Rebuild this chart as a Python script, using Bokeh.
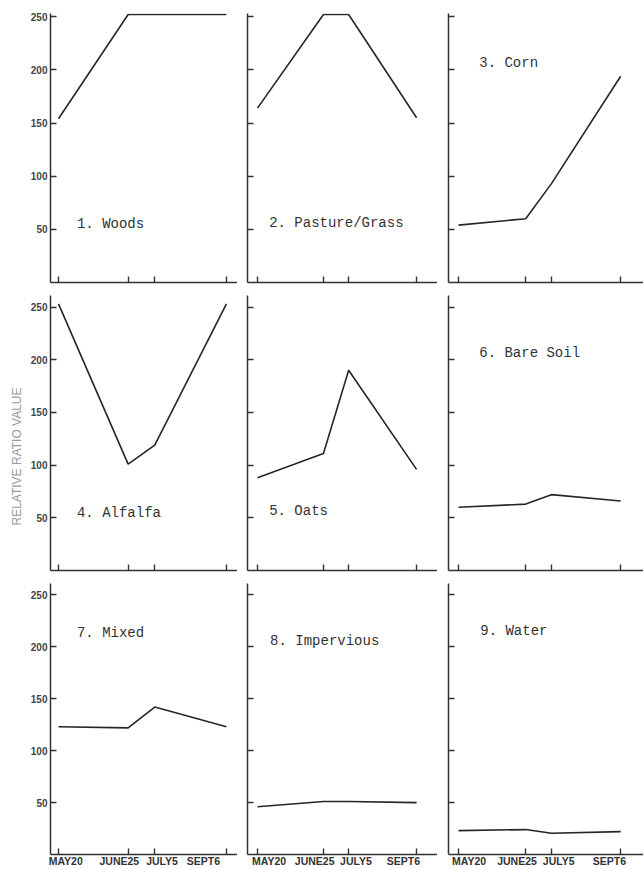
from bokeh.plotting import figure
from bokeh.layouts import gridplot
from bokeh.models import Range1d, Label, FixedTicker, Title
from bokeh.embed import file_html
from bokeh.resources import INLINE

# ---- data ----
date_labels = ["MAY20", "JUNE25", "JULY5", "SEPT6"]
date_pos = [0, 68, 94, 164]
y_ticks = [50, 100, 150, 200, 250]

woods = [154, 252, 252, 252]
pasture = [164, 252, 252, 155]
corn = [54, 60, 93, 194]
alfalfa = [253, 101, 119, 253]
oats = [88, 111, 190, 96]
bare_soil = [60, 63, 72, 66]
mixed = [123, 122, 142, 123]
impervious = [46, 51, 51, 50]
water = [23, 24, 20.5, 22]

panel_titles = ["1. Woods", "2. Pasture/Grass", "3. Corn",
                "4. Alfalfa", "5. Oats", "6. Bare Soil",
                "7. Mixed", "8. Impervious", "9. Water"]
series = [woods, pasture, corn, alfalfa, oats, bare_soil, mixed, impervious, water]
title_x = [18, 12, 21, 18, 12, 21, 18, 13, 22]
title_y = [55, 56, 206, 55, 56, 206, 213, 206, 215]
y_axis_title = "RELATIVE RATIO VALUE"

# ---- layout / style ----
# horizontal nudge of the date labels, made with leading/trailing no-break spaces
label_pad_left = [5, 0, 5, 0]
label_pad_right = [0, 6, 0, 6]
NBSP = "\u00a0"

col_w = [237, 200, 206]
col_bl = [50, 10, 11]
col_x = [(-7.8, 174.8), (-10.3, 185.6), (-10.1, 187.1)]
row_h = [288, 287, 294]
row_bt = [13, 7, 8]
row_bb = [6, 5, 14]
row_ymax = [253, 261, 261]

AX = "#333333"
figs = []
for i in range(9):
    r, c = divmod(i, 3)
    p = figure(width=col_w[c], height=row_h[r],
               x_range=Range1d(*col_x[c]), y_range=Range1d(0, row_ymax[r]),
               output_backend="svg", toolbar_location=None,
               min_border_left=col_bl[c], min_border_right=0,
               min_border_top=row_bt[r], min_border_bottom=row_bb[r],
               outline_line_color=None, background_fill_color="white",
               border_fill_color="white")
    p.grid.visible = False
    p.line(date_pos, series[i], line_width=1.6, line_color="#262626")

    for ax in (p.xaxis[0], p.yaxis[0]):
        ax.axis_line_width = 1.5
        ax.axis_line_color = AX
        ax.major_tick_line_color = AX
        ax.major_tick_line_width = 1.4
        ax.major_tick_in = 6
        ax.major_tick_out = 0
        ax.minor_tick_line_color = None

    p.xaxis.ticker = FixedTicker(ticks=date_pos)
    p.yaxis.ticker = FixedTicker(ticks=y_ticks)

    if r == 2:
        p.xaxis.major_label_overrides = {
            pos: NBSP * pl + lbl + NBSP * pr
            for pos, lbl, pl, pr in zip(date_pos, date_labels, label_pad_left, label_pad_right)
        }
        p.xaxis.major_label_text_font = "Liberation Sans"
        p.xaxis.major_label_text_font_style = "bold"
        p.xaxis.major_label_text_font_size = "10.5px"
        p.xaxis.major_label_text_color = "#333333"
        p.xaxis.major_label_standoff = 0
    else:
        p.xaxis.major_label_text_font_size = "0px"
        p.xaxis.major_label_text_color = None
        p.xaxis.major_label_standoff = 0

    if c == 0:
        p.yaxis.major_label_text_font = "Liberation Sans"
        p.yaxis.major_label_text_font_style = "bold"
        p.yaxis.major_label_text_font_size = "10px"
        p.yaxis.major_label_text_color = "#444444"
        p.yaxis.major_label_standoff = 3
    else:
        p.yaxis.major_label_text_font_size = "0px"
        p.yaxis.major_label_text_color = None
        p.yaxis.major_label_standoff = 0

    p.add_layout(Label(x=title_x[i], y=title_y[i], text=panel_titles[i],
                       text_font="Liberation Mono", text_font_size="14px",
                       text_color="#333333", text_align="left",
                       text_baseline="middle"))

    if r == 1 and c == 0:
        p.add_layout(Title(text=y_axis_title, align="left", offset=45, standoff=8,
                           text_font="Liberation Sans", text_font_size="12px",
                           text_font_style="normal", text_color="#999999"), "left")
    figs.append(p)

grid = gridplot([figs[0:3], figs[3:6], figs[6:9]], toolbar_location=None)

open("out.html", "w").write(file_html(grid, INLINE))
